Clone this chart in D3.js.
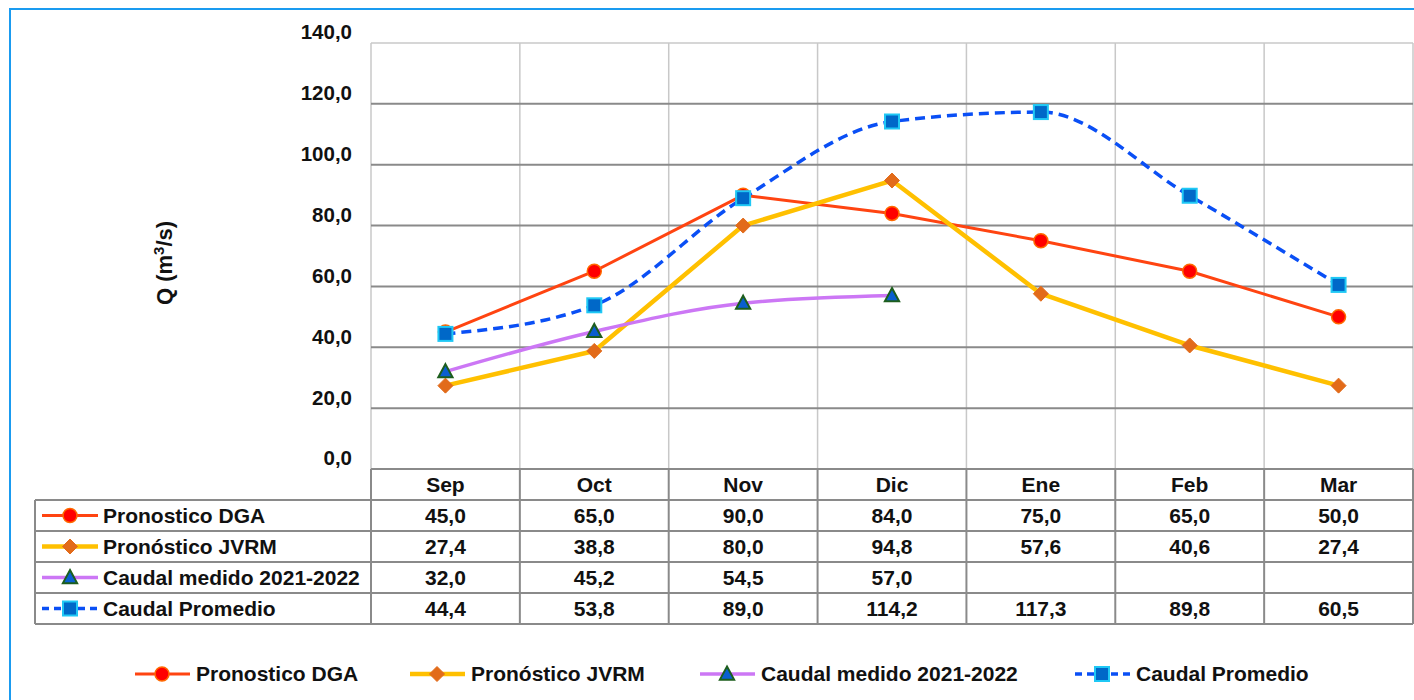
<!DOCTYPE html>
<html>
<head>
<meta charset="utf-8">
<script src="https://cdn.jsdelivr.net/npm/d3@7"></script>
<style>
  body { margin: 0; background: #fff; }
  svg { display: block; font-family: "Liberation Sans", Arial, sans-serif; }
</style>
</head>
<body>
<div id="chart"></div>
<script>
const months = ['Sep', 'Oct', 'Nov', 'Dic', 'Ene', 'Feb', 'Mar'];
const pronosticoDGA = [45.0, 65.0, 90.0, 84.0, 75.0, 65.0, 50.0];
const pronosticoJVRM = [27.4, 38.8, 80.0, 94.8, 57.6, 40.6, 27.4];
const caudalMedido = [32.0, 45.2, 54.5, 57.0, null, null, null];
const caudalPromedio = [44.4, 53.8, 89.0, 114.2, 117.3, 89.8, 60.5];
const yTicks = [0, 20, 40, 60, 80, 100, 120, 140];

const series = [
  { name: 'Pronostico DGA', values: pronosticoDGA, color: '#ff4411', width: 3, marker: 'circle', fill: '#ff0000', stroke: '#ff6a00', smooth: false },
  { name: 'Pronóstico JVRM', values: pronosticoJVRM, color: '#ffc000', width: 4.5, marker: 'diamond', fill: '#e26b1a', stroke: '#e26b1a', smooth: false },
  { name: 'Caudal medido 2021-2022', values: caudalMedido, color: '#cc77f5', width: 3.5, marker: 'triangle', fill: '#0a5fd0', stroke: '#1d5e1d', smooth: true },
  { name: 'Caudal Promedio', values: caudalPromedio, color: '#0a4ff5', width: 3.5, dash: '10,6', marker: 'square', fill: '#0068c8', stroke: '#1fc8f5', smooth: true }
];

const W = 1414, H = 700;
const plot = { left: 371, right: 1413, top: 43, bottom: 469 };
const tableLeft = 35, rowH = 31;
const fs = 20.5;
const tfs = 21;

const svg = d3.select('#chart').append('svg')
  .attr('width', W).attr('height', H);

// outer frame
svg.append('rect')
  .attr('x', 10).attr('y', 9).attr('width', W + 20).attr('height', H + 20)
  .attr('fill', 'none').attr('stroke', '#1a9bf0').attr('stroke-width', 2);

const x = d3.scaleBand().domain(months).range([plot.left, plot.right]);
const y = d3.scaleLinear().domain([0, 140]).range([plot.bottom, plot.top]);

// vertical gridlines
svg.append('g')
  .selectAll('line')
  .data(months)
  .enter().append('line')
  .attr('x1', d => x(d)).attr('x2', d => x(d))
  .attr('y1', plot.top).attr('y2', plot.bottom)
  .attr('stroke', '#c8c8c8').attr('stroke-width', 1.5);

svg.append('line')
  .attr('x1', plot.right).attr('x2', plot.right)
  .attr('y1', plot.top).attr('y2', plot.bottom)
  .attr('stroke', '#c8c8c8').attr('stroke-width', 1.5);

// horizontal gridlines
svg.append('g')
  .selectAll('line')
  .data(yTicks)
  .enter().append('line')
  .attr('x1', plot.left).attr('x2', plot.right)
  .attr('y1', d => y(d)).attr('y2', d => y(d))
  .attr('stroke', d => d === 140 ? '#c8c8c8' : '#8a8a8a')
  .attr('stroke-width', d => d === 140 ? 1.5 : 2);

// y axis labels
const fmt = v => d3.format('.1f')(v).replace('.', ',');
const yAxis = svg.append('g')
  .attr('transform', `translate(${plot.left},0)`)
  .call(d3.axisLeft(y).tickValues(yTicks).tickSize(0).tickPadding(19).tickFormat(fmt));
yAxis.select('.domain').remove();
yAxis.selectAll('text')
  .attr('font-size', fs).attr('font-weight', 'bold').attr('fill', '#111')
  .attr('font-family', '"Liberation Sans", Arial, sans-serif')
  .attr('dy', '-0.2em');

svg.append('text')
  .attr('transform', 'translate(172,263) rotate(-90)')
  .attr('text-anchor', 'middle')
  .attr('font-size', 22).attr('font-weight', 'bold').attr('fill', '#111')
  .html('Q (m<tspan dy="-8" font-size="15">3</tspan><tspan dy="8">/s)</tspan>');

// marker drawing
function drawMarker(g, s, cx, cy) {
  if (s.marker === 'circle') {
    g.append('circle').attr('cx', cx).attr('cy', cy).attr('r', 7)
      .attr('fill', s.fill).attr('stroke', s.stroke).attr('stroke-width', 1.5);
  } else if (s.marker === 'diamond') {
    const r = 7.5;
    g.append('path').attr('d', `M${cx},${cy - r}L${cx + r},${cy}L${cx},${cy + r}L${cx - r},${cy}Z`)
      .attr('fill', s.fill).attr('stroke', s.stroke).attr('stroke-width', 1);
  } else if (s.marker === 'triangle') {
    const r = 7.5;
    g.append('path').attr('d', `M${cx},${cy - r}L${cx + r * 0.95},${cy + r * 0.75}L${cx - r * 0.95},${cy + r * 0.75}Z`)
      .attr('fill', s.fill).attr('stroke', s.stroke).attr('stroke-width', 2);
  } else {
    const r = 7;
    g.append('rect').attr('x', cx - r).attr('y', cy - r).attr('width', 2 * r).attr('height', 2 * r)
      .attr('fill', s.fill).attr('stroke', s.stroke).attr('stroke-width', 2);
  }
}

const cxOf = i => x(months[i]) + x.bandwidth() / 2;

// lines
series.forEach(s => {
  const pts = s.values.map((v, i) => [i, v]).filter(d => d[1] !== null);
  const line = d3.line()
    .x(d => cxOf(d[0]))
    .y(d => y(d[1]))
    .curve(s.smooth ? d3.curveMonotoneX : d3.curveLinear);
  svg.append('path')
    .datum(pts)
    .attr('d', line)
    .attr('fill', 'none')
    .attr('stroke', s.color)
    .attr('stroke-width', s.width)
    .attr('stroke-dasharray', s.dash || null)
    .attr('stroke-linejoin', 'round');
});

// markers on top
series.forEach(s => {
  const g = svg.append('g');
  s.values.forEach((v, i) => {
    if (v !== null) drawMarker(g, s, cxOf(i), y(v));
  });
});

// data table
const table = svg.append('g');
const gridColor = '#8a8a8a';
const tableBottom = plot.bottom + rowH * (series.length + 1);

months.forEach((m, i) => {
  table.append('text')
    .attr('x', cxOf(i)).attr('y', plot.bottom + rowH / 2 + 7)
    .attr('text-anchor', 'middle')
    .attr('font-size', tfs).attr('font-weight', 'bold').attr('fill', '#111')
    .text(m);
});

const colEdges = months.map(m => x(m)).concat([plot.right]);
table.selectAll('line.v')
  .data(colEdges)
  .enter().append('line')
  .attr('x1', d => d).attr('x2', d => d)
  .attr('y1', plot.bottom).attr('y2', tableBottom)
  .attr('stroke', gridColor).attr('stroke-width', 2);

table.append('line')
  .attr('x1', tableLeft).attr('x2', tableLeft)
  .attr('y1', plot.bottom + rowH).attr('y2', tableBottom)
  .attr('stroke', gridColor).attr('stroke-width', 2);

d3.range(series.length + 1).forEach(r => {
  const yy = plot.bottom + rowH * (r + 1);
  table.append('line')
    .attr('x1', tableLeft).attr('x2', plot.right)
    .attr('y1', yy).attr('y2', yy)
    .attr('stroke', gridColor).attr('stroke-width', 2);
});

series.forEach((s, r) => {
  const cy = plot.bottom + rowH * (r + 1) + rowH / 2;
  const kg = table.append('g');
  kg.append('line')
    .attr('x1', 42).attr('x2', 98).attr('y1', cy).attr('y2', cy)
    .attr('stroke', s.color).attr('stroke-width', s.width)
    .attr('stroke-dasharray', s.dash ? '7,5' : null);
  drawMarker(kg, s, 70, cy);
  table.append('text')
    .attr('x', 103).attr('y', cy + 7)
    .attr('font-size', tfs).attr('font-weight', 'bold').attr('fill', '#111')
    .text(s.name);
  s.values.forEach((v, i) => {
    if (v === null) return;
    table.append('text')
      .attr('x', cxOf(i)).attr('y', cy + 7)
      .attr('text-anchor', 'middle')
      .attr('font-size', tfs).attr('font-weight', 'bold').attr('fill', '#111')
      .text(fmt(v));
  });
});

// bottom legend
const legendX = [135, 410, 700, 1075];
const legendY = 674;
series.forEach((s, i) => {
  const g = svg.append('g');
  const lx = legendX[i];
  g.append('line')
    .attr('x1', lx).attr('x2', lx + 55).attr('y1', legendY).attr('y2', legendY)
    .attr('stroke', s.color).attr('stroke-width', s.width)
    .attr('stroke-dasharray', s.dash ? '7,5' : null);
  drawMarker(g, s, lx + 27, legendY);
  g.append('text')
    .attr('x', lx + 61).attr('y', legendY + 7)
    .attr('font-size', tfs).attr('font-weight', 'bold').attr('fill', '#111')
    .text(s.name);
});
</script>
</body>
</html>
